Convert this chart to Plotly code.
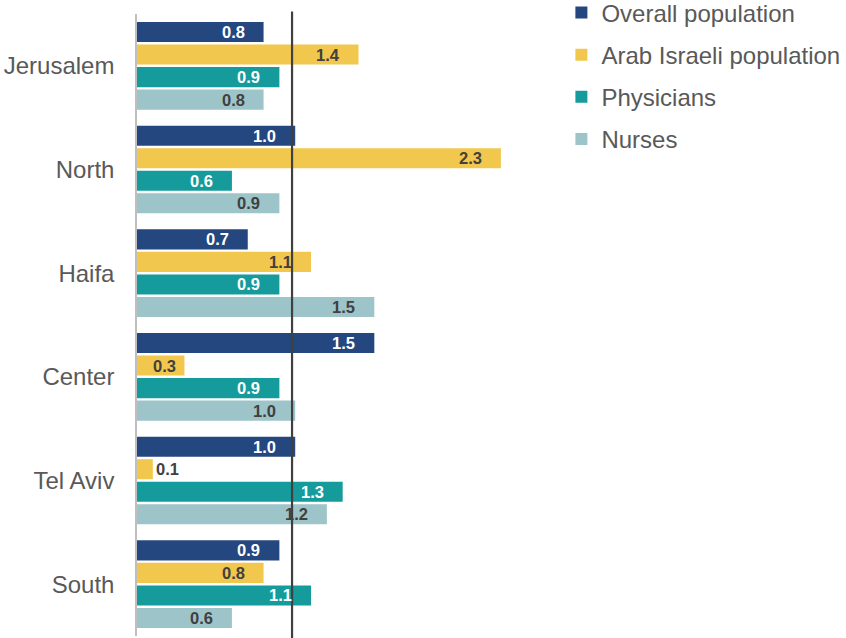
import plotly.graph_objects as go

regions = ["Jerusalem", "North", "Haifa", "Center", "Tel Aviv", "South"]
series_names = ["Overall population", "Arab Israeli population", "Physicians", "Nurses"]
overall = [0.8, 1.0, 0.7, 1.5, 1.0, 0.9]
arab_israeli = [1.4, 2.3, 1.1, 0.3, 0.1, 0.8]
physicians = [0.9, 0.6, 0.9, 0.9, 1.3, 1.1]
nurses = [0.8, 0.9, 1.5, 1.0, 1.2, 0.6]
reference_value = 0.98

series_values = [overall, arab_israeli, physicians, nurses]
bar_colors = ["#24477F", "#F2C74E", "#169B9C", "#9DC5C9"]
label_colors = ["#FFFFFF", "#404040", "#FFFFFF", "#404040"]

FONT = "Liberation Sans, Arial, sans-serif"
W, H = 846, 638
M_L, M_R, M_T, M_B = 137, 266, 14, 2
X_MAX = 2.8
BARGAP = 0.13
plot_h = H - M_T - M_B
band_px = plot_h / len(regions)
slot_px = band_px * (1 - BARGAP) / len(series_names)

fig = go.Figure()
for i, (name, vals) in enumerate(zip(series_names, series_values)):
    fig.add_trace(go.Bar(
        name=name, y=regions, x=vals, orientation="h",
        marker=dict(color=bar_colors[i], line=dict(width=0)),
        legendgroup=name, hoverinfo="x+y",
    ))

# value labels at the end of each bar
annotations = []
for i, vals in enumerate(series_values):
    yshift = -(i - (len(series_names) - 1) / 2) * slot_px
    for region, v in zip(regions, vals):
        if v < 0.2:
            anchor, xshift, color = "left", 1, "#404040"
        elif v < 0.5:
            anchor, xshift, color = "right", -6, label_colors[i]
        else:
            anchor, xshift, color = "right", -17, label_colors[i]
        annotations.append(dict(
            x=v, y=region, xref="x", yref="y", text=f"<b>{v:.1f}</b>",
            showarrow=False, xanchor=anchor, yanchor="middle",
            xshift=xshift, yshift=yshift,
            font=dict(family=FONT, size=16.5, color=color),
        ))

fig.add_shape(type="line", xref="x", yref="paper", x0=reference_value, x1=reference_value,
              y0=-0.005, y1=1.004, line=dict(color="#404040", width=2.2), layer="above")

fig.update_layout(
    width=W, height=H,
    margin=dict(l=M_L, r=M_R, t=M_T, b=M_B, autoexpand=False),
    paper_bgcolor="white", plot_bgcolor="white",
    barmode="group", bargap=BARGAP, bargroupgap=0.11,
    font=dict(family=FONT, color="#595959"),
    showlegend=True,
    legend=dict(
        x=0.958, y=1.038, xanchor="left", yanchor="top",
        font=dict(family=FONT, size=24, color="#595959"),
        traceorder="grouped", tracegroupgap=8,
        bgcolor="rgba(0,0,0,0)", itemclick=False,
    ),
    annotations=annotations,
    xaxis=dict(range=[0, X_MAX], showgrid=False, zeroline=False, showticklabels=False,
               ticks="", showline=False, fixedrange=True),
    yaxis=dict(autorange="reversed", showgrid=False, zeroline=False,
               showline=True, linecolor="#BFBFBF", linewidth=1.5,
               ticks="", ticklabelstandoff=16,
               tickfont=dict(family=FONT, size=24, color="#595959"), fixedrange=True),
)

fig.write_html("out.html")
